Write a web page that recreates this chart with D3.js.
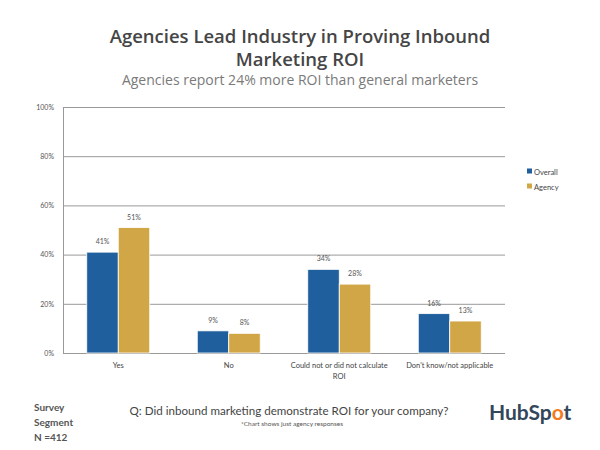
<!DOCTYPE html>
<html><head><meta charset="utf-8">
<script src="https://cdn.jsdelivr.net/npm/d3@7"></script>
<style>body{margin:0;background:#fff;}svg{display:block;font-family:Lato,"Open Sans",sans-serif;}</style>
</head><body><svg id="c" width="600" height="450"></svg>
<script>
const categories = ["Yes", "No", "Could not or did not calculate ROI", "Don't know/not applicable"];
const categoryLines = [["Yes"], ["No"], ["Could not or did not calculate", "ROI"], ["Don't know/not applicable"]];
const seriesNames = ["Overall", "Agency"];
const overall = [41, 9, 34, 16];
const agency = [51, 8, 28, 13];
const yTicks = [0, 20, 40, 60, 80, 100];
const colors = ["#1f5f9d", "#d1a647"];

const svg = d3.select("#c");
const m = {l: 63, r: 95, t: 107, b: 97};
const W = 600, H = 450;
const x0 = d3.scaleBand().domain(categories).range([m.l, W - m.r]).paddingInner(0.43).paddingOuter(0.215);
const x1 = d3.scaleBand().domain(seriesNames).range([0, x0.bandwidth()]);
const y = d3.scaleLinear().domain([0, 100]).range([H - m.b, m.t]);

// title
const tf = "'Open Sans', sans-serif";
svg.append("text").attr("x", 300).attr("y", 43).attr("text-anchor", "middle").attr("font-family", tf)
  .attr("font-size", 18.5).attr("font-weight", 600).attr("fill", "#454545")
  .text("Agencies Lead Industry in Proving Inbound");
svg.append("text").attr("x", 300).attr("y", 66).attr("text-anchor", "middle").attr("font-family", tf)
  .attr("font-size", 18.5).attr("font-weight", 600).attr("fill", "#454545")
  .text("Marketing ROI");
svg.append("text").attr("x", 300).attr("y", 85).attr("text-anchor", "middle").attr("font-family", tf)
  .attr("font-size", 14).attr("fill", "#7a7a7a")
  .text("Agencies report 24% more ROI than general marketers");

// grid
const yAxis = d3.axisLeft(y).tickValues(yTicks).tickFormat(d => d + "%").tickSize(-(W - m.r - m.l)).tickPadding(9);
const ga = svg.append("g").attr("transform", `translate(${m.l},0)`).call(yAxis);
ga.select(".domain").attr("stroke", "#999");
ga.selectAll(".tick line").attr("stroke", "#999").attr("stroke-width", 1);
ga.selectAll(".tick text").attr("font-size", 7).attr("fill", "#555").attr("font-family", "Lato, sans-serif");

// bars
const data = categories.map((c, i) => ({c, vals: [overall[i], agency[i]]}));
const g = svg.append("g").selectAll("g").data(data).join("g")
  .attr("transform", d => `translate(${x0(d.c)},0)`);
g.selectAll("rect").data(d => d.vals.map((v, j) => ({v, s: seriesNames[j], j})))
  .join("rect")
  .attr("x", d => x1(d.s)).attr("y", d => y(d.v))
  .attr("width", x1.bandwidth()).attr("height", d => y(0) - y(d.v))
  .attr("fill", d => colors[d.j]).attr("stroke", "#fff").attr("stroke-width", 0.8);
g.selectAll("text").data(d => d.vals.map((v, j) => ({v, s: seriesNames[j], j})))
  .join("text")
  .attr("x", d => x1(d.s) + x1.bandwidth() / 2).attr("y", d => y(d.v) - 8)
  .attr("text-anchor", "middle").attr("font-size", 7).attr("fill", "#555")
  .text(d => d.v + "%");

// x labels
categories.forEach((c, i) => {
  const t = svg.append("text").attr("text-anchor", "middle").attr("font-size", 7.5).attr("fill", "#444");
  categoryLines[i].forEach((ln, k) => {
    t.append("tspan").attr("x", x0(c) + x0.bandwidth() / 2).attr("y", 368 + k * 11).text(ln);
  });
});

// legend
seriesNames.forEach((s, i) => {
  const ly = 172 + i * 15;
  svg.append("rect").attr("x", 527).attr("y", ly - 3.5).attr("width", 5).attr("height", 5).attr("fill", colors[i]);
  svg.append("text").attr("x", 534).attr("y", ly + 2.5).attr("font-size", 7.5).attr("fill", "#444").text(s);
});

// footer
["Survey", "Segment", "N =412"].forEach((t, i) => {
  svg.append("text").attr("x", 34).attr("y", 411 + i * 15).attr("font-size", 10).attr("font-weight", 700)
    .attr("fill", "#555").text(t);
});
svg.append("text").attr("x", 289).attr("y", 415).attr("text-anchor", "middle").attr("font-size", 11.6)
  .attr("fill", "#444").text("Q:  Did inbound marketing demonstrate ROI for your company?");
svg.append("text").attr("x", 292).attr("y", 426).attr("text-anchor", "middle").attr("font-size", 6.5)
  .attr("fill", "#555").text("*Chart shows just agency responses");
const logo = svg.append("text").attr("x", 489).attr("y", 420).attr("font-size", 21).attr("font-weight", 700)
  .attr("fill", "#33475b").attr("font-family", "Lato, sans-serif");
logo.append("tspan").text("HubSp");
logo.append("tspan").attr("fill", "#f47b20").text("o");
logo.append("tspan").text("t");
</script></body></html>
